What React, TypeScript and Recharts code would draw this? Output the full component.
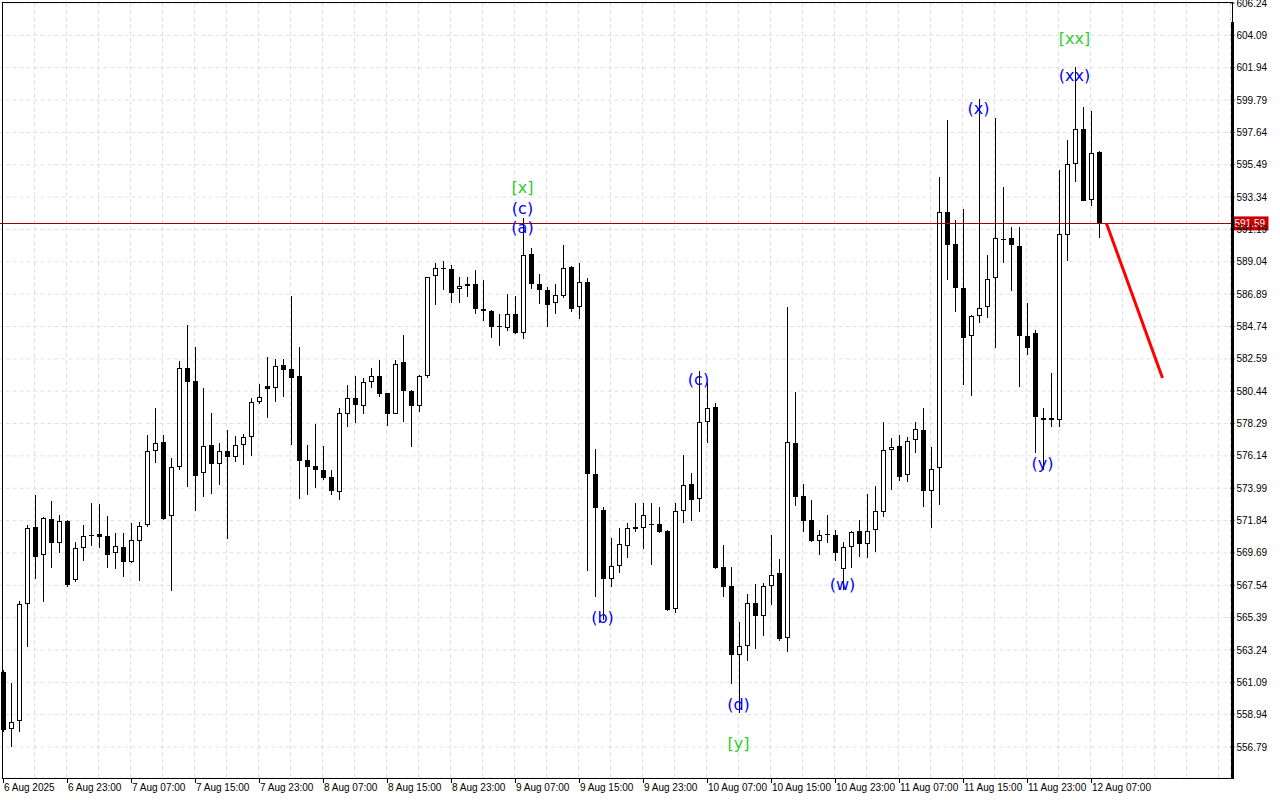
import { ComposedChart, Bar, Line, XAxis, YAxis, CartesianGrid, ReferenceLine, ReferenceDot } from 'recharts'

// hourly bars, 6 Aug 15:00 -> 12 Aug 08:00
const opens = [
  561.78, 557.99, 558.52, 566.30, 571.42, 569.56, 571.95, 570.35, 571.81, 567.89,
  570.02, 570.88, 570.95, 570.82, 569.69, 570.09, 569.09, 570.49, 571.55, 576.47,
  577.07, 572.15, 575.40, 581.98, 581.12, 575.00, 576.87, 575.60, 576.47, 576.07,
  576.87, 577.40, 579.72, 580.79, 580.65, 582.18, 581.92, 581.45, 575.87, 575.47,
  575.20, 574.74, 573.74, 578.93, 579.99, 579.46, 581.05, 581.45, 580.32, 578.93,
  582.38, 580.45, 579.46, 581.45, 588.10, 588.63, 588.56, 587.23, 587.43, 587.57,
  585.90, 585.77, 584.77, 584.64, 585.57, 584.31, 589.56, 587.57, 587.17, 586.30,
  586.77, 588.70, 586.04, 587.70, 574.94, 572.55, 567.96, 568.82, 570.15, 571.42,
  571.35, 571.62, 571.62, 571.15, 565.97, 572.48, 574.27, 573.28, 578.39, 579.39,
  568.76, 567.49, 562.91, 563.51, 566.37, 565.50, 567.49, 568.36, 564.04, 577.00,
  573.48, 571.88, 570.49, 570.95, 570.88, 568.62, 570.09, 571.15, 570.29, 571.22,
  572.41, 576.53, 576.80, 574.87, 577.20, 577.86, 573.81, 575.34, 592.35, 590.22,
  587.30, 584.11, 585.44, 586.04, 587.96, 590.58, 590.62, 590.09, 584.11, 584.31,
  578.66, 578.66, 578.53, 590.82, 595.54, 597.87, 593.15, 596.34,
]
const highs = [
  561.91, 561.05, 566.50, 571.55, 573.54, 572.08, 573.14, 572.21, 571.88, 570.42,
  571.55, 573.01, 572.94, 572.15, 571.02, 571.02, 571.68, 571.75, 577.53, 579.32,
  577.53, 576.00, 582.45, 584.84, 583.38, 580.65, 578.99, 577.00, 577.86, 577.46,
  577.60, 579.99, 580.92, 582.71, 582.58, 582.58, 586.77, 583.38, 576.87, 578.26,
  576.80, 575.20, 579.32, 580.85, 581.45, 581.32, 581.98, 582.51, 580.35, 582.51,
  584.18, 580.52, 581.52, 588.05, 588.96, 589.09, 588.83, 588.03, 588.03, 588.50,
  587.83, 585.84, 585.57, 586.90, 586.77, 591.95, 589.96, 588.23, 587.37, 587.57,
  590.16, 588.76, 588.96, 587.96, 576.60, 572.75, 570.69, 571.35, 571.68, 573.01,
  573.01, 573.01, 572.75, 571.22, 573.01, 576.20, 575.00, 581.78, 580.99, 579.66,
  570.22, 568.76, 565.10, 566.96, 567.63, 567.69, 570.88, 569.29, 586.04, 580.39,
  574.27, 573.21, 571.22, 572.21, 571.22, 570.42, 571.12, 571.88, 573.61, 574.14,
  578.39, 577.33, 577.53, 577.40, 578.39, 579.32, 576.73, 594.68, 598.46, 591.82,
  592.55, 585.47, 599.86, 589.49, 598.60, 594.01, 591.35, 591.35, 586.30, 584.51,
  579.32, 581.65, 595.14, 597.14, 601.99, 599.33, 599.06, 596.40,
]
const lows = [
  557.79, 556.79, 557.79, 563.44, 567.96, 566.43, 568.69, 569.69, 567.43, 567.76,
  569.16, 570.15, 570.02, 568.69, 568.62, 568.09, 569.02, 567.83, 571.42, 575.67,
  571.90, 567.16, 575.20, 574.07, 572.48, 573.41, 573.61, 574.21, 570.62, 575.74,
  575.54, 576.13, 579.59, 578.66, 579.72, 580.06, 576.87, 573.28, 573.54, 574.01,
  574.54, 573.54, 573.21, 578.06, 578.33, 578.93, 580.65, 580.06, 578.13, 578.90,
  578.39, 576.73, 579.06, 581.32, 586.17, 587.17, 586.30, 586.30, 586.70, 585.57,
  585.11, 583.98, 583.45, 584.44, 584.25, 583.91, 587.23, 586.24, 584.71, 585.57,
  586.64, 585.70, 585.24, 568.49, 566.76, 565.24, 567.43, 568.36, 569.36, 571.08,
  569.95, 568.89, 571.04, 565.83, 565.70, 571.68, 571.81, 572.41, 577.00, 568.62,
  566.76, 560.98, 559.05, 562.51, 563.31, 564.17, 566.23, 563.84, 563.11, 572.81,
  571.08, 570.42, 569.56, 570.35, 569.16, 567.23, 568.69, 569.42, 569.36, 569.75,
  572.08, 573.88, 574.47, 574.41, 576.33, 572.75, 571.35, 572.88, 587.83, 585.70,
  580.85, 580.12, 584.97, 585.31, 583.31, 588.96, 587.10, 580.72, 582.85, 576.33,
  575.20, 578.06, 578.06, 589.09, 594.34, 593.05, 592.75, 590.62,
]
const closes = [
  557.92, 558.46, 566.30, 571.35, 569.42, 572.01, 570.35, 571.81, 567.56, 570.02,
  570.82, 570.85, 570.75, 569.56, 570.15, 569.09, 570.55, 571.48, 576.47, 577.00,
  571.95, 575.40, 581.98, 581.05, 574.81, 576.80, 575.60, 576.47, 576.07, 576.87,
  577.40, 579.72, 580.06, 580.59, 582.12, 581.85, 581.32, 575.80, 575.40, 575.20,
  574.67, 573.81, 578.99, 579.99, 579.52, 581.05, 581.45, 580.26, 578.93, 582.25,
  580.45, 579.46, 581.45, 588.03, 588.63, 588.56, 586.97, 587.43, 587.57, 585.90,
  585.77, 584.71, 584.71, 585.57, 584.31, 589.49, 587.57, 587.17, 586.17, 586.83,
  588.63, 585.90, 587.70, 574.94, 572.68, 567.96, 568.82, 570.29, 571.35, 571.28,
  572.21, 571.55, 571.08, 565.90, 572.48, 574.21, 573.21, 578.39, 579.32, 568.69,
  567.43, 562.91, 563.51, 566.37, 565.50, 567.49, 568.23, 563.97, 577.07, 573.41,
  571.81, 570.49, 570.88, 570.88, 569.69, 570.09, 571.08, 570.29, 571.15, 572.48,
  576.53, 576.73, 574.74, 577.13, 577.93, 573.81, 575.27, 592.35, 590.16, 587.30,
  583.98, 585.44, 585.97, 587.90, 590.62, 590.56, 590.16, 584.11, 583.31, 578.73,
  578.53, 578.53, 590.89, 595.54, 597.87, 593.08, 596.27, 591.59,
]

// one label every 8 bars
const timeLabels = [
  '6 Aug 2025', '6 Aug 23:00', '7 Aug 07:00', '7 Aug 15:00', '7 Aug 23:00', '8 Aug 07:00',
  '8 Aug 15:00', '8 Aug 23:00', '9 Aug 07:00', '9 Aug 15:00', '9 Aug 23:00', '10 Aug 07:00',
  '10 Aug 15:00', '10 Aug 23:00', '11 Aug 07:00', '11 Aug 15:00', '11 Aug 23:00', '12 Aug 07:00',
]

const priceTicks = [
  606.24, 604.09, 601.94, 599.79, 597.64, 595.49, 593.34, 591.19, 589.04, 586.89, 584.74, 582.59,
  580.44, 578.29, 576.14, 573.99, 571.84, 569.69, 567.54, 565.39, 563.24, 561.09, 558.94, 556.79,
]

const lastPrice = 591.59
const forecastBars = [138, 145]
const forecastPrices = [591.59, 581.32]

// wave labels
const waveNames = ['[x]', '(c)', '(a)', '(b)', '(c)', '(d)', '[y]', '(w)', '(x)', '(y)', '[xx]', '(xx)']
const waveBars = [65, 65, 65, 75, 87, 92, 92, 105, 122, 130, 134, 134]
const wavePrices = [593.95, 592.55, 591.29, 565.43, 581.19, 559.59, 556.99, 567.56, 599.26, 575.6, 603.91, 601.39]

const TOTAL_SLOTS = 154

const data = Array.from({ length: TOTAL_SLOTS }, (_, i) => {
  const fIdx = forecastBars.indexOf(i)
  if (i < opens.length) {
    return {
      i,
      open: opens[i],
      high: highs[i],
      low: lows[i],
      close: closes[i],
      range: [lows[i], highs[i]],
      fc: fIdx >= 0 ? forecastPrices[fIdx] : null,
    }
  }
  return { i, range: null, fc: fIdx >= 0 ? forecastPrices[fIdx] : null }
})

const xTicks = Array.from({ length: TOTAL_SLOTS / 2 }, (_, k) => k * 4).filter(v => v < TOTAL_SLOTS)

function Candle(props: any) {
  const { x, y, width, height, payload } = props
  if (!payload || payload.open == null) return null
  const { open, close, high, low } = payload
  const top = Math.min(y, y + height)
  const bot = Math.max(y, y + height)
  const k = (bot - top) / (high - low)
  const py = (v: number) => Math.round(top + (high - v) * k)
  const cx = Math.floor(x + width / 2) + 0.5
  const bt = Math.min(py(open), py(close))
  const bb = Math.max(py(open), py(close))
  const up = close >= open
  return (
    <g shapeRendering="crispEdges">
      <line x1={cx} x2={cx} y1={Math.round(top)} y2={Math.round(bot)} stroke="#000" strokeWidth={1} />
      {up ? (
        <rect x={cx - 2} y={bt + 0.5} width={4} height={Math.max(bb - bt - 1, 0)} fill="#fff" stroke="#000" strokeWidth={1} />
      ) : (
        <rect x={cx - 2.5} y={bt} width={5} height={Math.max(bb - bt, 1)} fill="#000" />
      )}
    </g>
  )
}

function TimeTick(props: any) {
  const { x, y, payload } = props
  const i = payload.value
  if (i % 8 !== 0) return null
  const label = timeLabels[i / 8]
  if (!label) return null
  const px = Math.round(x) + 0.5
  return (
    <g>
      <line x1={px} x2={px} y1={y} y2={y + 5} stroke="#000" strokeWidth={1} shapeRendering="crispEdges" />
      <text x={px + 0.5} y={y + 13} fontSize={10} fontFamily="Liberation Sans" fill="#000">{label}</text>
    </g>
  )
}

function PriceTag(props: any) {
  const vb = props.viewBox || {}
  const right = vb.x + vb.width
  const yy = vb.y
  return (
    <g>
      <rect x={right + 2} y={yy - 7} width={36} height={14} fill="#c80000" />
      <text x={right + 4} y={yy + 4} fontSize={10} fontFamily="Liberation Sans" fill="#fff">{lastPrice.toFixed(2)}</text>
    </g>
  )
}

function WaveText(props: any) {
  const { cx, cy, name } = props
  const green = name.startsWith('[')
  return (
    <text x={cx} y={cy} textAnchor="middle" dominantBaseline="central" fontSize={16}
      fontFamily="DejaVu Sans" fill={green ? '#32cd32' : '#0000ff'}>{name}</text>
  )
}

export default function App() {
  return (
    <div style={{ position: 'relative', width: 1280, height: 800, background: '#fff', overflow: 'hidden' }}>
      <style>{'body{margin:0}'}</style>
      <ComposedChart
        width={1280}
        height={800}
        data={data}
        margin={{ top: 3, right: 0, bottom: 0, left: -1.5 }}
        style={{ fontFamily: 'Liberation Sans' }}
      >
        <CartesianGrid stroke="#e0e0e0" strokeDasharray="4 3" />
        <XAxis
          dataKey="i"
          type="category"
          ticks={xTicks}
          interval={0}
          height={22}
          tickSize={0}
          tickMargin={0}
          axisLine={false}
          tickLine={false}
          tick={<TimeTick />}
        />
        <YAxis
          orientation="right"
          type="number"
          width={49.5}
          domain={[554.73, 606.24]}
          allowDataOverflow
          ticks={priceTicks}
          interval={0}
          tickSize={4}
          tickMargin={2}
          axisLine={false}
          tickLine={{ stroke: '#000' }}
          tick={{ fontSize: 10, fill: '#000', fontFamily: 'Liberation Sans' }}
          tickFormatter={(v: number) => v.toFixed(2)}
        />
        <ReferenceLine y={lastPrice} stroke="#a00000" strokeWidth={1} shapeRendering="crispEdges" label={<PriceTag />} />
        <Bar dataKey="range" barSize={5} shape={<Candle />} isAnimationActive={false} />
        <Line dataKey="fc" stroke="#ff0000" strokeWidth={3} dot={false} connectNulls isAnimationActive={false} />
        {waveNames.map((n, k) => (
          <ReferenceDot key={k} x={waveBars[k]} y={wavePrices[k]} r={0}
            shape={(p: any) => <WaveText {...p} name={n} />} />
        ))}
      </ComposedChart>
      {/* chart frame */}
      <div style={{ position: 'absolute', left: 2, top: 2, width: 1231, height: 1, background: '#000' }} />
      <div style={{ position: 'absolute', left: 2, top: 2, width: 1, height: 777, background: '#000' }} />
      <div style={{ position: 'absolute', left: 2, top: 778, width: 1232, height: 1, background: '#000' }} />
      <div style={{ position: 'absolute', left: 1232, top: 2, width: 1, height: 20, background: '#000' }} />
      <div style={{ position: 'absolute', left: 1231, top: 22, width: 3, height: 757, background: '#000' }} />
    </div>
  )
}
